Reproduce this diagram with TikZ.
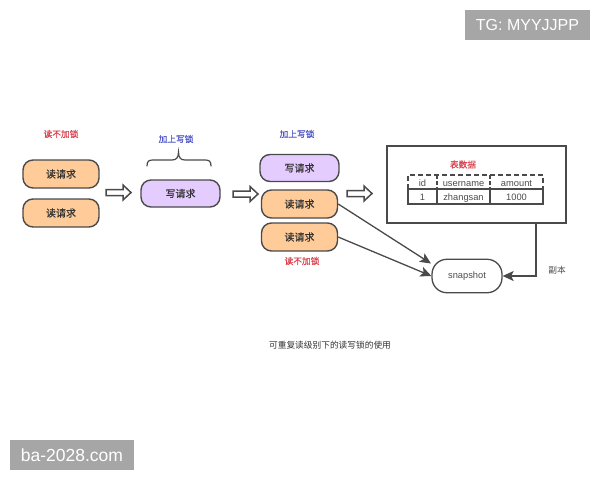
\documentclass[tikz,border=0pt]{standalone}
\usepackage{fontspec}
\setmainfont{Liberation Sans}
\newfontfamily\cjk{Noto Sans CJK SC}
\newfontfamily\cjkm[FakeBold=0.4]{Noto Sans CJK SC}
\usetikzlibrary{arrows.meta}
\definecolor{orfill}{HTML}{FFCC99}
\definecolor{pufill}{HTML}{E5CCFF}
\definecolor{edge}{HTML}{4A4A4A}
\definecolor{redtxt}{HTML}{D9434E}
\definecolor{bluetxt}{HTML}{4F55C8}
\definecolor{marktxt}{HTML}{A6A6A6}
\tikzset{
 x=1pt,y=-1pt,
 pill/.style={draw=edge,line width=1.4pt,rounded corners=10pt,minimum width=#1,inner sep=0pt,font=\cjkm\fontsize{10}{10}\selectfont,text=black!80},
 readreq/.style={pill=76pt,fill=orfill,minimum height=28pt},
 writereq/.style={pill=79pt,fill=pufill,minimum height=27pt},
 hollow/.style={draw=edge,line width=1.5pt,fill=white,line join=miter},
 redlabel/.style={font=\cjkm\fontsize{8.7}{10}\selectfont,text=redtxt},
 bluelabel/.style={font=\cjkm\fontsize{8.7}{10}\selectfont,text=bluetxt},
 cell/.style={font=\fontsize{9.3}{10}\selectfont,text=black!70,inner sep=0pt,anchor=base},
 conn/.style={draw=edge,line width=1.3pt,-{Stealth[length=11pt,width=10pt,inset=2.5pt]}},
 mark/.style={fill=marktxt,text=white,font=\fontsize{#1}{16}\selectfont,inner sep=0pt},
}
\newcommand{\hollowarrow}[2]{%
 \draw[hollow] (#1,#2-3) -- ++(17,0) -- ++(0,-4.5) -- ++(8,7.5) -- ++(-8,7.5) -- ++(0,-4.5) -- ++(-17,0) -- cycle;}
\begin{document}
\begin{tikzpicture}
\useasboundingbox (0,0) rectangle (600,480);
\fill[white] (0,0) rectangle (600,480);
\node[mark=16,minimum width=125pt,minimum height=30pt] (tg) at (527.5,25) {TG: MYYJJPP};
\node[mark=17.5,minimum width=124pt,minimum height=30pt] (ba) at (72,455) {ba-2028.com};

\node[redlabel] (l1) at (61,134) {读不加锁};
\node[bluelabel] (l2) at (176,139) {加上写锁};
\node[bluelabel] (l3) at (297,134) {加上写锁};
\node[redlabel] (l4) at (302,261) {读不加锁};

\node[readreq] (r1) at (61,174) {读请求};
\node[readreq] (r2) at (61,213) {读请求};
\node[writereq] (w1) at (180.5,193.5) {写请求};
\node[writereq] (w2) at (299.5,168) {写请求};
\node[readreq] (r3) at (299.5,204) {读请求};
\node[readreq] (r4) at (299.5,237) {读请求};

\hollowarrow{106}{192.5}
\hollowarrow{233}{194}
\hollowarrow{347}{193.5}

\draw[draw=edge,line width=1.2pt,line cap=round] (147,166) .. controls (147,161) and (149,160) .. (153,160) -- (172,160) .. controls (176,160) and (178.5,158) .. (178.5,152) .. controls (178.5,158) and (181,160) .. (185,160) -- (205,160) .. controls (209,160) and (211,161) .. (211,166);

\node[draw=edge,line width=1.5pt,minimum width=179pt,minimum height=77pt,inner sep=0pt] (box) at (476.5,184.5) {};
\node[redlabel] (tl) at (463,164.5) {表数据};

\draw[edge,line width=1.3pt,dash pattern=on 5pt off 3pt] (408,189) -- (408,175) -- (543,175) -- (543,189);
\draw[edge,line width=1.3pt,dash pattern=on 4pt off 2pt] (437,175) -- (437,189);
\draw[edge,line width=1.3pt,dash pattern=on 4pt off 2pt] (490,175) -- (490,189);
\draw[edge,line width=1.3pt] (408,189) rectangle (543,204);
\draw[edge,line width=1.3pt] (437,189) -- (437,204);
\draw[edge,line width=1.3pt] (490,189) -- (490,204);
\node[cell] (c1) at (422.5,186) {id};
\node[cell] (c2) at (463.5,186) {username};
\node[cell] (c3) at (516.5,186) {amount};
\node[cell] (c4) at (422.5,200.5) {1};
\node[cell] (c5) at (463.5,200.5) {zhangsan};
\node[cell] (c6) at (516.5,200.5) {1000};

\node[draw=edge,line width=1.3pt,rounded corners=15pt,minimum width=70pt,minimum height=33.5pt,inner sep=0pt,font=\fontsize{9.3}{10}\selectfont,text=black!70] (snap) at (467,276) {snapshot};

\coordinate (boxout) at (536,223);
\coordinate (snaptop) at (431,263.5);
\draw[conn] (r3.east) -- (snaptop);
\draw[conn] (r4.east) -- (snap.west);
\draw[conn] (boxout) |- (snap.east);

\node[font=\cjk\fontsize{8.7}{10}\selectfont,text=black!70] (cp) at (557,270.5) {副本};
\node[font=\cjk\fontsize{8.7}{10}\selectfont,text=black!80] (cap) at (330,345) {可重复读级别下的读写锁的使用};
\end{tikzpicture}
\end{document}
